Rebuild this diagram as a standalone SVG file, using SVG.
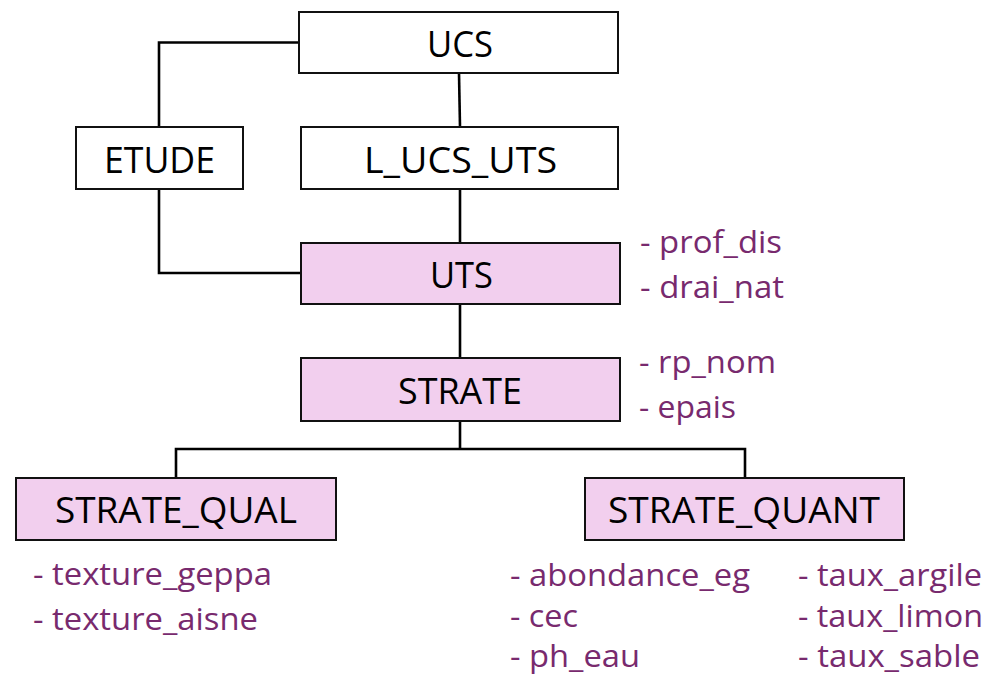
<svg xmlns="http://www.w3.org/2000/svg" width="992" height="676" viewBox="0 0 992 676">
  <style>
    .box { fill: #ffffff; stroke: #111111; stroke-width: 2; }
    .ent { fill: #f2cfee; stroke: #111111; stroke-width: 2; }
    .lbl { font-family: "Open Sans", "Liberation Sans", sans-serif; font-size: 37px; fill: #000000; }
    .att { font-family: "Open Sans", "Liberation Sans", sans-serif; font-size: 31px; fill: #782a6e; }
    .link { fill: none; stroke: #000000; stroke-width: 2.6; }
  </style>

  <!-- connectors -->
  <g id="connectors">
    <polyline class="link" points="299,42.5 159,42.5 159,127"/>
    <polyline class="link" points="159,189 159,273 301,273"/>
    <line class="link" x1="459" y1="73" x2="460" y2="127"/>
    <line class="link" x1="460" y1="189" x2="460" y2="243"/>
    <line class="link" x1="460" y1="304" x2="460" y2="358"/>
    <line class="link" x1="460" y1="421" x2="460" y2="449"/>
    <polyline class="link" points="176,478 176,449 745,449 745,478"/>
  </g>

  <g id="ucs">
    <rect class="box" x="299" y="12" width="319" height="61"/>
    <text class="lbl" x="427" y="57" textLength="66" lengthAdjust="spacingAndGlyphs">UCS</text>
  </g>

  <g id="etude">
    <rect class="box" x="76" y="127" width="167" height="62"/>
    <text class="lbl" x="104" y="173" textLength="111" lengthAdjust="spacingAndGlyphs">ETUDE</text>
  </g>

  <g id="l_ucs_uts">
    <rect class="box" x="301" y="127" width="317" height="62"/>
    <text class="lbl" x="364" y="173" textLength="193" lengthAdjust="spacingAndGlyphs">L_UCS_UTS</text>
  </g>

  <g id="uts">
    <rect class="ent" x="301" y="243" width="319" height="61"/>
    <text class="lbl" x="430" y="288" textLength="63" lengthAdjust="spacingAndGlyphs">UTS</text>
    <text class="att" x="640" y="253" textLength="142" lengthAdjust="spacingAndGlyphs">- prof_dis</text>
    <text class="att" x="640" y="298" textLength="144" lengthAdjust="spacingAndGlyphs">- drai_nat</text>
  </g>

  <g id="strate">
    <rect class="ent" x="301" y="358" width="319" height="63"/>
    <text class="lbl" x="398" y="404" textLength="124" lengthAdjust="spacingAndGlyphs">STRATE</text>
    <text class="att" x="639" y="373" textLength="137" lengthAdjust="spacingAndGlyphs">- rp_nom</text>
    <text class="att" x="639" y="418" textLength="97" lengthAdjust="spacingAndGlyphs">- epais</text>
  </g>

  <g id="strate_qual">
    <rect class="ent" x="16" y="478" width="320" height="62"/>
    <text class="lbl" x="55" y="523" textLength="242" lengthAdjust="spacingAndGlyphs">STRATE_QUAL</text>
    <text class="att" x="33" y="585" textLength="239" lengthAdjust="spacingAndGlyphs">- texture_geppa</text>
    <text class="att" x="33" y="630" textLength="225" lengthAdjust="spacingAndGlyphs">- texture_aisne</text>
  </g>

  <g id="strate_quant">
    <rect class="ent" x="585" y="478" width="319" height="62"/>
    <text class="lbl" x="608" y="523" textLength="272" lengthAdjust="spacingAndGlyphs">STRATE_QUANT</text>
    <text class="att" x="510" y="586" textLength="240" lengthAdjust="spacingAndGlyphs">- abondance_eg</text>
    <text class="att" x="510" y="627" textLength="68" lengthAdjust="spacingAndGlyphs">- cec</text>
    <text class="att" x="510" y="667" textLength="130" lengthAdjust="spacingAndGlyphs">- ph_eau</text>
    <text class="att" x="798" y="586" textLength="184" lengthAdjust="spacingAndGlyphs">- taux_argile</text>
    <text class="att" x="798" y="627" textLength="185" lengthAdjust="spacingAndGlyphs">- taux_limon</text>
    <text class="att" x="798" y="667" textLength="182" lengthAdjust="spacingAndGlyphs">- taux_sable</text>
  </g>
</svg>
